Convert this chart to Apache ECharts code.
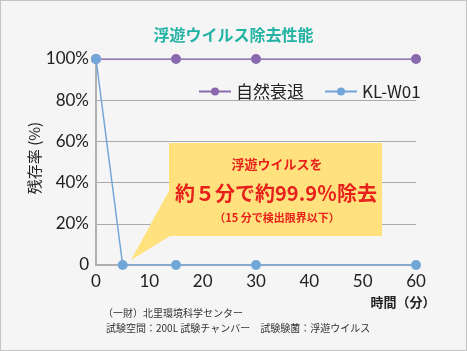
<!DOCTYPE html>
<html><head><meta charset="utf-8">
<script src="https://cdn.jsdelivr.net/npm/echarts@6/dist/echarts.min.js"></script>
<style>html,body{margin:0;padding:0;background:#f5f5f5}#c{width:467px;height:351px;box-sizing:border-box;border:1px solid #c4c4c4}</style>
</head><body><div id="c"></div>
<script>
const seriesNames = ['自然衰退', 'KL-W01'];
const naturalDecay = [[0, 100], [15, 100], [30, 100], [60, 100]];
const klw01 = [[0, 100], [5, 0], [15, 0], [30, 0], [60, 0]];
const xTicks = [0, 10, 20, 30, 40, 50, 60];
const yTicks = [0, 20, 40, 60, 80, 100];

const font = '"Noto Sans CJK JP", "Noto Sans", sans-serif';
const chart = echarts.init(document.getElementById('c'), null, {renderer: 'canvas'});
chart.setOption({
  backgroundColor: '#f5f5f5',
  animation: false,
  title: {text: '浮遊ウイルス除去性能', left: 'center', top: 21,
    textStyle: {color: '#22b3a4', fontSize: 16, fontWeight: 'bold', fontFamily: font}},
  legend: {left: 192, top: 77, itemWidth: 32, itemHeight: 10, itemGap: 20,
    textStyle: {fontSize: 17, color: '#222', fontFamily: font},
    data: seriesNames},
  grid: {left: 95, right: 50, top: 58, bottom: 85},
  xAxis: {type: 'value', min: 0, max: 60, interval: 10,
    axisLine: {lineStyle: {color: '#b0b0b0', width: 2}},
    axisTick: {show: false}, splitLine: {show: false},
    axisLabel: {color: '#222', fontSize: 17, margin: 8, fontFamily: 'Lato, "Noto Sans", sans-serif',
      formatter: v => xTicks.includes(v) ? String(v) : ''}},
  yAxis: {type: 'value', min: 0, max: 100, interval: 20,
    axisLine: {show: true, lineStyle: {color: '#b0b0b0', width: 2}},
    axisTick: {show: false},
    splitLine: {lineStyle: {color: '#aaaaaa', width: 1}},
    axisLabel: {color: '#222', fontSize: 17, margin: 7, fontFamily: 'Lato, "Noto Sans", sans-serif',
      formatter: v => yTicks.includes(v) ? (v === 0 ? '0' : v + '%') : ''}},
  series: [
    {name: seriesNames[0], type: 'line', data: naturalDecay, symbol: 'circle', symbolSize: 10,
      itemStyle: {color: '#8a6aae'}, lineStyle: {color: '#8a6aae', width: 1.5}, z: 3},
    {name: seriesNames[1], type: 'line', data: klw01, symbol: 'circle', symbolSize: 10,
      itemStyle: {color: '#73a6d8'}, lineStyle: {color: '#73a6d8', width: 1.5}, z: 4}
  ],
  graphic: [
    {type: 'polygon', shape: {points: [[169, 188], [169, 235], [130, 259]]}, style: {fill: '#ffe27e'}, z: 10},
    {type: 'rect', shape: {x: 168, y: 142, width: 213, height: 93}, style: {fill: '#ffe27e'}, z: 10},
    {type: 'text', x: 276, y: 163, z: 11, style: {text: '浮遊ウイルスを', fill: '#e8201c', fontSize: 13, fontWeight: 'bold', fontFamily: font, align: 'center', verticalAlign: 'middle'}},
    {type: 'text', x: 275, y: 192, z: 11, style: {text: '約５分で約99.9％除去', fill: '#e8201c', fontSize: 20, fontWeight: 'bold', fontFamily: font, align: 'center', verticalAlign: 'middle'}},
    {type: 'text', x: 276, y: 217, z: 11, style: {text: '（15 分で検出限界以下）', fill: '#e8201c', fontSize: 11, fontWeight: 'bold', fontFamily: font, align: 'center', verticalAlign: 'middle'}},
    {type: 'text', x: 33, y: 157, rotation: Math.PI / 2, z: 11, style: {text: '残存率 (%)', fill: '#222', fontSize: 15, fontFamily: font, align: 'center', verticalAlign: 'middle'}},
    {type: 'text', x: 402, y: 301, z: 11, style: {text: '時間（分）', fill: '#222', fontSize: 13, fontWeight: 'bold', fontFamily: font, align: 'center', verticalAlign: 'middle'}},
    {type: 'text', x: 102, y: 312, z: 11, style: {text: '（一財）北里環境科学センター', fill: '#333', fontSize: 10, fontFamily: font, align: 'left', verticalAlign: 'middle'}},
    {type: 'text', x: 105, y: 327, z: 11, style: {text: '試験空間：200L 試験チャンバー　試験験菌：浮遊ウイルス', fill: '#333', fontSize: 10, fontFamily: font, align: 'left', verticalAlign: 'middle'}}
  ]
});
</script></body></html>
